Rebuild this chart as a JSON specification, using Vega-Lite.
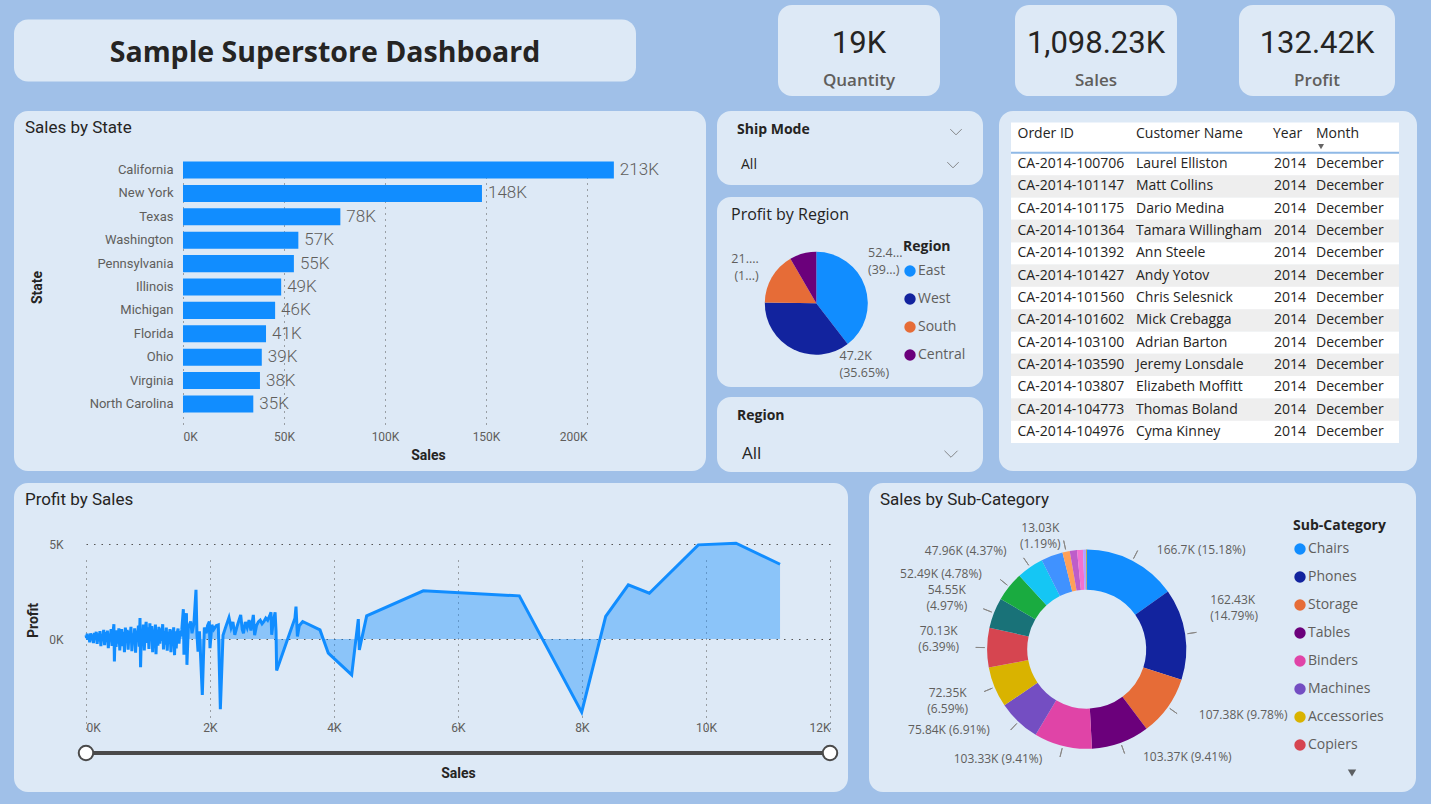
{
  "$schema": "https://vega.github.io/schema/vega-lite/v6.json",
  "background": "#a0c0e8",
  "padding": {"left": 14, "top": 5, "right": 15, "bottom": 14},
  "config": {
    "font": "Roboto",
    "view": {"fill": "#dde9f6", "stroke": null, "cornerRadius": 14},
    "axis": {"domain": false, "ticks": false, "labelFont": "Roboto", "labelColor": "#605E5C", "labelFontSize": 12, "titleFont": "Roboto", "titleColor": "#252423", "titleFontSize": 14, "titleFontWeight": "bold", "gridColor": "#555555", "gridDash": [1, 5]},
    "legend": {"orient": "none", "symbolType": "circle", "symbolSize": 130, "titleFont": "Open Sans", "titleFontSize": 14, "titleFontWeight": "bold", "titleColor": "#252423", "labelFont": "Open Sans", "labelFontSize": 14, "labelColor": "#605E5C", "rowPadding": 14, "labelOffset": 1, "titlePadding": 9},
    "title": {"anchor": "start", "frame": "group", "font": "Roboto", "fontSize": 17, "fontWeight": "normal", "color": "#252423", "offset": -26}
  },
  "datasets": {
    "states": [
      {"State": "California", "Sales": 213300},
      {"State": "New York", "Sales": 148000},
      {"State": "Texas", "Sales": 77900},
      {"State": "Washington", "Sales": 57100},
      {"State": "Pennsylvania", "Sales": 54900},
      {"State": "Illinois", "Sales": 48600},
      {"State": "Michigan", "Sales": 45600},
      {"State": "Florida", "Sales": 41100},
      {"State": "Ohio", "Sales": 39000},
      {"State": "Virginia", "Sales": 38100},
      {"State": "North Carolina", "Sales": 34800}
    ],
    "regions": [
      {"Region": "East", "Profit": 52390, "Label": "52.4...\n(39...)"},
      {"Region": "West", "Profit": 47210, "Label": "47.2K\n(35.65%)"},
      {"Region": "South", "Profit": 21720, "Label": "21....\n(1...)"},
      {"Region": "Central", "Profit": 11100, "Label": ""}
    ],
    "subcats": [
      {"Sub-Category": "Chairs", "Sales": 166700},
      {"Sub-Category": "Phones", "Sales": 162430},
      {"Sub-Category": "Storage", "Sales": 107380},
      {"Sub-Category": "Tables", "Sales": 103370},
      {"Sub-Category": "Binders", "Sales": 103330},
      {"Sub-Category": "Machines", "Sales": 75840},
      {"Sub-Category": "Accessories", "Sales": 72350},
      {"Sub-Category": "Copiers", "Sales": 70130},
      {"Sub-Category": "Bookcases", "Sales": 54550},
      {"Sub-Category": "Appliances", "Sales": 52490},
      {"Sub-Category": "Furnishings", "Sales": 47960},
      {"Sub-Category": "Paper", "Sales": 38700},
      {"Sub-Category": "Supplies", "Sales": 13030},
      {"Sub-Category": "Art", "Sales": 12900},
      {"Sub-Category": "Envelopes", "Sales": 10600},
      {"Sub-Category": "Labels", "Sales": 5200},
      {"Sub-Category": "Fasteners", "Sales": 1270}
    ],
    "orders": [
      {"Order ID": "Order ID", "Customer Name": "Customer Name", "Year": "Year", "Month": "Month"},
      {"Order ID": "CA-2014-100706", "Customer Name": "Laurel Elliston", "Year": "2014", "Month": "December"},
      {"Order ID": "CA-2014-101147", "Customer Name": "Matt Collins", "Year": "2014", "Month": "December"},
      {"Order ID": "CA-2014-101175", "Customer Name": "Dario Medina", "Year": "2014", "Month": "December"},
      {"Order ID": "CA-2014-101364", "Customer Name": "Tamara Willingham", "Year": "2014", "Month": "December"},
      {"Order ID": "CA-2014-101392", "Customer Name": "Ann Steele", "Year": "2014", "Month": "December"},
      {"Order ID": "CA-2014-101427", "Customer Name": "Andy Yotov", "Year": "2014", "Month": "December"},
      {"Order ID": "CA-2014-101560", "Customer Name": "Chris Selesnick", "Year": "2014", "Month": "December"},
      {"Order ID": "CA-2014-101602", "Customer Name": "Mick Crebagga", "Year": "2014", "Month": "December"},
      {"Order ID": "CA-2014-103100", "Customer Name": "Adrian Barton", "Year": "2014", "Month": "December"},
      {"Order ID": "CA-2014-103590", "Customer Name": "Jeremy Lonsdale", "Year": "2014", "Month": "December"},
      {"Order ID": "CA-2014-103807", "Customer Name": "Elizabeth Moffitt", "Year": "2014", "Month": "December"},
      {"Order ID": "CA-2014-104773", "Customer Name": "Thomas Boland", "Year": "2014", "Month": "December"},
      {"Order ID": "CA-2014-104976", "Customer Name": "Cyma Kinney", "Year": "2014", "Month": "December"}
    ],
    "profitBySales": [
      {"Sales":0,"Profit":200},{"Sales":10,"Profit":60},{"Sales":20,"Profit":280},{"Sales":30,"Profit":-40},{"Sales":45,"Profit":180},{"Sales":60,"Profit":-180},{"Sales":75,"Profit":300},{"Sales":90,"Profit":-60},{"Sales":105,"Profit":240},{"Sales":120,"Profit":-220},
      {"Sales":135,"Profit":320},{"Sales":150,"Profit":20},{"Sales":165,"Profit":380},{"Sales":180,"Profit":-260},{"Sales":195,"Profit":300},{"Sales":210,"Profit":-120},{"Sales":225,"Profit":420},{"Sales":240,"Profit":-380},{"Sales":255,"Profit":260},{"Sales":270,"Profit":0},
      {"Sales":285,"Profit":480},{"Sales":300,"Profit":-320},{"Sales":315,"Profit":360},{"Sales":330,"Profit":-160},{"Sales":345,"Profit":440},{"Sales":360,"Profit":-480},{"Sales":375,"Profit":280},{"Sales":390,"Profit":60},{"Sales":405,"Profit":520},{"Sales":420,"Profit":-360},
      {"Sales":435,"Profit":340},{"Sales":450,"Profit":780},{"Sales":458,"Profit":-1180},{"Sales":470,"Profit":300},{"Sales":485,"Profit":-420},{"Sales":500,"Profit":460},{"Sales":515,"Profit":-250},{"Sales":530,"Profit":560},{"Sales":545,"Profit":-600},{"Sales":560,"Profit":250},
      {"Sales":575,"Profit":520},{"Sales":590,"Profit":-380},{"Sales":605,"Profit":380},{"Sales":620,"Profit":-700},{"Sales":635,"Profit":600},{"Sales":650,"Profit":-200},{"Sales":665,"Profit":480},{"Sales":680,"Profit":-560},{"Sales":695,"Profit":420},{"Sales":710,"Profit":80},
      {"Sales":725,"Profit":640},{"Sales":740,"Profit":-640},{"Sales":755,"Profit":300},{"Sales":770,"Profit":-150},{"Sales":785,"Profit":560},{"Sales":800,"Profit":-720},{"Sales":815,"Profit":450},{"Sales":830,"Profit":0},{"Sales":845,"Profit":700},{"Sales":860,"Profit":-400},
      {"Sales":871,"Profit":1100},{"Sales":880,"Profit":-1480},{"Sales":895,"Profit":500},{"Sales":910,"Profit":-300},{"Sales":925,"Profit":760},{"Sales":940,"Profit":-600},{"Sales":955,"Profit":400},{"Sales":970,"Profit":900},{"Sales":985,"Profit":-200},{"Sales":1000,"Profit":620},
      {"Sales":1015,"Profit":-520},{"Sales":1030,"Profit":820},{"Sales":1045,"Profit":-100},{"Sales":1060,"Profit":680},{"Sales":1075,"Profit":-700},{"Sales":1090,"Profit":420},{"Sales":1105,"Profit":300},{"Sales":1120,"Profit":760},{"Sales":1129,"Profit":-800},{"Sales":1145,"Profit":500},
      {"Sales":1160,"Profit":-350},{"Sales":1175,"Profit":640},{"Sales":1190,"Profit":-250},{"Sales":1205,"Profit":560},{"Sales":1220,"Profit":-100},{"Sales":1237,"Profit":780},{"Sales":1250,"Profit":-550},{"Sales":1265,"Profit":420},{"Sales":1280,"Profit":-300},{"Sales":1295,"Profit":600},
      {"Sales":1310,"Profit":-620},{"Sales":1325,"Profit":380},{"Sales":1340,"Profit":100},{"Sales":1355,"Profit":520},{"Sales":1370,"Profit":-700},{"Sales":1385,"Profit":460},{"Sales":1400,"Profit":-200},{"Sales":1414,"Profit":620},{"Sales":1428,"Profit":-850},{"Sales":1440,"Profit":400},
      {"Sales":1455,"Profit":-500},{"Sales":1470,"Profit":300},{"Sales":1485,"Profit":550},{"Sales":1500,"Profit":-250},{"Sales":1515,"Profit":420},{"Sales":1530,"Profit":150},{"Sales":1545,"Profit":480},{"Sales":1570,"Profit":1570},{"Sales":1580,"Profit":-830},{"Sales":1600,"Profit":500},
      {"Sales":1620,"Profit":1360},{"Sales":1628,"Profit":-1360},{"Sales":1650,"Profit":600},{"Sales":1688,"Profit":920},{"Sales":1710,"Profit":300},{"Sales":1740,"Profit":800},{"Sales":1774,"Profit":2590},{"Sales":1790,"Profit":200},{"Sales":1807,"Profit":-660},{"Sales":1830,"Profit":400},
      {"Sales":1876,"Profit":-2940},{"Sales":1909,"Profit":600},{"Sales":1940,"Profit":300},{"Sales":1960,"Profit":700},{"Sales":1989,"Profit":920},{"Sales":2000,"Profit":-480},{"Sales":2030,"Profit":745},{"Sales":2060,"Profit":500},{"Sales":2100,"Profit":700},{"Sales":2134,"Profit":745},
      {"Sales":2167,"Profit":-3690},{"Sales":2210,"Profit":200},{"Sales":2250,"Profit":600},{"Sales":2306,"Profit":1130},{"Sales":2340,"Profit":600},{"Sales":2370,"Profit":900},{"Sales":2400,"Profit":220},{"Sales":2440,"Profit":700},{"Sales":2495,"Profit":1270},{"Sales":2520,"Profit":500},
      {"Sales":2540,"Profit":300},{"Sales":2570,"Profit":900},{"Sales":2600,"Profit":600},{"Sales":2630,"Profit":1000},{"Sales":2660,"Profit":450},{"Sales":2699,"Profit":1270},{"Sales":2720,"Profit":200},{"Sales":2750,"Profit":700},{"Sales":2780,"Profit":900},{"Sales":2810,"Profit":990},
      {"Sales":2840,"Profit":800},{"Sales":2870,"Profit":920},{"Sales":2900,"Profit":1100},{"Sales":2930,"Profit":990},{"Sales":2960,"Profit":1200},{"Sales":2984,"Profit":1410},{"Sales":2995,"Profit":220},{"Sales":3020,"Profit":900},{"Sales":3050,"Profit":1410},{"Sales":3065,"Profit":400},
      {"Sales":3075,"Profit":-1660},{"Sales":3370,"Profit":1090},{"Sales":3387,"Profit":1710},{"Sales":3410,"Profit":130},{"Sales":3440,"Profit":700},{"Sales":3495,"Profit":920},{"Sales":3774,"Profit":480},{"Sales":3908,"Profit":-745},{"Sales":4285,"Profit":-1885},{"Sales":4392,"Profit":1045},
      {"Sales":4408,"Profit":-570},{"Sales":4527,"Profit":1220},{"Sales":5440,"Profit":2535},{"Sales":6989,"Profit":2270},{"Sales":7995,"Profit":-3850},{"Sales":8382,"Profit":1185},{"Sales":8747,"Profit":2850},{"Sales":9086,"Profit":2410},{"Sales":9876,"Profit":4955},{"Sales":10484,"Profit":5040},
      {"Sales":11194,"Profit":3935}
    ]
  },
  "spacing": 14,
  "resolve": {"scale": {"color": "independent"}, "legend": {"color": "independent"}},
  "vconcat": [
    {
      "spacing": 142,
      "center": true,
      "hconcat": [
        {
          "width": 622, "height": 62,
          "view": {"fill": "#dde9f6", "stroke": null, "cornerRadius": 14},
          "data": {"values": [{"Heading": "Sample Superstore Dashboard"}]},
          "mark": {"type": "text", "font": "Open Sans", "fontSize": 28.5, "fontWeight": "bold", "color": "#252423", "dy": 2},
          "encoding": {"text": {"field": "Heading"}}
        },
        {
          "spacing": 75,
          "hconcat": [
            {
              "width": 162, "height": 91,
              "view": {"fill": "#dde9f6", "stroke": null, "cornerRadius": 14},
              "data": {"values": [{"Value": "19K", "Measure": "Quantity"}]},
              "layer": [
                {"mark": {"type": "text", "fontSize": 31, "color": "#252423", "dy": -7}, "encoding": {"text": {"field": "Value"}}},
                {"mark": {"type": "text", "font": "Open Sans", "fontSize": 17, "fontWeight": 600, "color": "#605E5C", "dy": 30}, "encoding": {"text": {"field": "Measure"}}}
              ]
            },
            {
              "spacing": 62,
              "hconcat": [
                {
                  "width": 162, "height": 91,
                  "view": {"fill": "#dde9f6", "stroke": null, "cornerRadius": 14},
                  "data": {"values": [{"Value": "1,098.23K", "Measure": "Sales"}]},
                  "layer": [
                    {"mark": {"type": "text", "fontSize": 31, "color": "#252423", "dy": -7}, "encoding": {"text": {"field": "Value"}}},
                    {"mark": {"type": "text", "font": "Open Sans", "fontSize": 17, "fontWeight": 600, "color": "#605E5C", "dy": 30}, "encoding": {"text": {"field": "Measure"}}}
                  ]
                },
                {
                  "width": 156, "height": 91,
                  "view": {"fill": "#dde9f6", "stroke": null, "cornerRadius": 14},
                  "data": {"values": [{"Value": "132.42K", "Measure": "Profit"}]},
                  "layer": [
                    {"mark": {"type": "text", "fontSize": 31, "color": "#252423", "dy": -7}, "encoding": {"text": {"field": "Value"}}},
                    {"mark": {"type": "text", "font": "Open Sans", "fontSize": 17, "fontWeight": 600, "color": "#605E5C", "dy": 30}, "encoding": {"text": {"field": "Measure"}}}
                  ]
                }
              ]
            }
          ]
        }
      ]
    },
    {
      "spacing": 11,
      "resolve": {"scale": {"color": "independent"}, "legend": {"color": "independent"}},
      "vconcat": [
        {
          "spacing": 10,
          "resolve": {"scale": {"color": "independent"}, "legend": {"color": "independent"}},
          "hconcat": [
            {
              "width": 692, "height": 360,
              "title": {"text": "Sales by State", "dx": 11},
              "data": {"name": "states"},
              "transform": [{"calculate": "format(datum.Sales / 1000, '.0f') + 'K'", "as": "SalesLabel"}],
              "encoding": {
                "y": {"field": "State", "type": "nominal", "sort": "-x",
                  "scale": {"range": [47, 305], "paddingInner": 0.27, "paddingOuter": 0.15},
                  "axis": {"orient": "left", "offset": -169, "labelPadding": 10, "labelFontSize": 13, "title": "State", "titlePadding": 45}},
                "x": {"field": "Sales", "type": "quantitative",
                  "scale": {"domain": [0, 200000], "range": [169, 573], "nice": false},
                  "axis": {"values": [0, 50000, 100000, 150000, 200000], "labelExpr": "format(datum.value / 1000, 'd') + 'K'", "offset": -44, "labelPadding": 4, "grid": true, "title": "Sales", "titleX": 414, "titlePadding": 6}}
              },
              "layer": [
                {"mark": {"type": "bar", "color": "#118DFF"}},
                {
                  "mark": {"type": "text", "align": "left", "dx": 6, "fontSize": 17, "fontWeight": 300, "color": "#605E5C"},
                  "encoding": {"text": {"field": "SalesLabel"}}
                }
              ]
            },
            {
              "spacing": 16,
              "resolve": {"scale": {"color": "independent"}, "legend": {"color": "independent"}},
              "hconcat": [
                {
                  "spacing": 12,
                  "resolve": {"scale": {"color": "independent"}, "legend": {"color": "independent"}},
                  "vconcat": [
                    {
                      "width": 266, "height": 74,
                      "view": {"fill": "#dde9f6", "stroke": null, "cornerRadius": 14},
                      "title": {"text": "Ship Mode", "font": "Open Sans", "fontSize": 14, "fontWeight": "bold", "dx": 20},
                      "data": {"values": [{"Selection": "All"}]},
                      "layer": [
                        {"mark": {"type": "rule", "x": 20, "x2": 246, "y": 30, "color": "#605E5C", "strokeWidth": 1.2}, "encoding": {}},
                        {"mark": {"type": "text", "x": 24, "y": 54, "align": "left", "font": "Open Sans", "fontSize": 14, "color": "#252423"}, "encoding": {"text": {"field": "Selection"}}},
                        {"mark": {"type": "point", "shape": "M-1,-0.5L0,0.5L1,-0.5", "size": 130, "filled": false, "color": "#605E5C", "strokeWidth": 1, "x": 239, "y": 21}, "encoding": {}},
                        {"mark": {"type": "point", "shape": "M-1,-0.5L0,0.5L1,-0.5", "size": 130, "filled": false, "color": "#605E5C", "strokeWidth": 1, "x": 236, "y": 54}, "encoding": {}}
                      ]
                    },
                    {
                      "spacing": 9,
                      "resolve": {"scale": {"color": "independent"}, "legend": {"color": "independent"}},
                      "vconcat": [
                        {
                          "width": 266, "height": 190,
                          "view": {"fill": "#dde9f6", "stroke": null, "cornerRadius": 14},
                          "title": {"text": "Profit by Region", "font": "Open Sans", "fontSize": 16, "dx": 14},
                          "data": {"name": "regions"},
                          "layer": [
                            {"mark": {"type": "rule", "opacity": 0}, "encoding": {"x": {"datum": 0, "type": "quantitative", "axis": null}}},
                            {"mark": {"type": "arc", "outerRadius": 51.5, "x": 99.3, "y": 106.3},
                              "encoding": {
                                "theta": {"field": "Profit", "type": "quantitative", "stack": true},
                                "order": {"field": "Profit", "sort": "descending"},
                                "color": {"field": "Region", "type": "nominal",
                                  "scale": {"domain": ["East", "West", "South", "Central"], "range": ["#118DFF", "#12239E", "#E66C37", "#6B007B"]},
                                  "legend": {"title": "Region", "legendX": 186, "legendY": 43, "titlePadding": 10}}
                              }},
                            {"mark": {"type": "text", "radius": 62, "x": 99.3, "y": 106.3, "align": "left", "dx": -7, "dy": -30.5, "lineBreak": "\n", "lineHeight": 17, "font": "Open Sans", "fontSize": 12.5, "color": "#605E5C"},
                              "encoding": {"theta": {"field": "Profit", "type": "quantitative", "stack": true}, "order": {"field": "Profit", "sort": "descending"},
                                "text": {"condition": {"test": "datum.Region === 'East'", "field": "Label"}, "value": ""}}},
                            {"mark": {"type": "text", "radius": 62, "x": 99.3, "y": 106.3, "align": "left", "dx": 51, "dy": -3, "lineBreak": "\n", "lineHeight": 17, "font": "Open Sans", "fontSize": 12.5, "color": "#605E5C"},
                              "encoding": {"theta": {"field": "Profit", "type": "quantitative", "stack": true}, "order": {"field": "Profit", "sort": "descending"},
                                "text": {"condition": {"test": "datum.Region === 'West'", "field": "Label"}, "value": ""}}},
                            {"mark": {"type": "text", "radius": 62, "x": 99.3, "y": 106.3, "align": "right", "dx": -4, "dy": -13.5, "lineBreak": "\n", "lineHeight": 17, "font": "Open Sans", "fontSize": 12.5, "color": "#605E5C"},
                              "encoding": {"theta": {"field": "Profit", "type": "quantitative", "stack": true}, "order": {"field": "Profit", "sort": "descending"},
                                "text": {"condition": {"test": "datum.Region === 'South'", "field": "Label"}, "value": ""}}}
                          ]
                        },
                        {
                          "width": 266, "height": 75,
                          "view": {"fill": "#dde9f6", "stroke": null, "cornerRadius": 14},
                          "title": {"text": "Region", "font": "Open Sans", "fontSize": 14, "fontWeight": "bold", "dx": 20},
                          "data": {"values": [{"Selection": "All"}]},
                          "layer": [
                            {"mark": {"type": "rule", "x": 20, "x2": 246, "y": 29, "color": "#605E5C", "strokeWidth": 1.2}, "encoding": {}},
                            {"mark": {"type": "text", "x": 25, "y": 57, "align": "left", "font": "Open Sans", "fontSize": 17, "color": "#252423"}, "encoding": {"text": {"field": "Selection"}}},
                            {"mark": {"type": "point", "shape": "M-1,-0.5L0,0.5L1,-0.5", "size": 170, "filled": false, "color": "#605E5C", "strokeWidth": 1, "x": 234, "y": 57}, "encoding": {}}
                          ]
                        }
                      ]
                    }
                  ]
                },
                {
                  "width": 418, "height": 360,
                  "data": {"name": "orders"},
                  "encoding": {
                    "y": {"field": "Order ID", "type": "nominal", "axis": null, "sort": null,
                      "scale": {"domain": ["Order ID", "CA-2014-100706", "CA-2014-101147", "CA-2014-101175", "CA-2014-101364", "CA-2014-101392", "CA-2014-101427", "CA-2014-101560", "CA-2014-101602", "CA-2014-103100", "CA-2014-103590", "CA-2014-103807", "CA-2014-104773", "CA-2014-104976"],
                        "range": [19.5, 332.1], "paddingInner": 0, "paddingOuter": 0}}
                  },
                  "layer": [
                    {"transform": [{"filter": "datum['Order ID'] === 'Order ID'"}], "mark": {"type": "rect", "x": 12, "x2": 400, "color": "#ffffff"}},
                    {"transform": [{"filter": "datum['Order ID'] === 'Order ID'"}], "mark": {"type": "rect", "x": 12, "x2": 400, "color": "#ffffff", "yOffset": -8}},
                    {"transform": [{"filter": "datum['Order ID'] !== 'Order ID'"}], "mark": {"type": "rect", "x": 12, "x2": 400, "color": "#ffffff"}},
                    {"transform": [{"filter": {"field": "Order ID", "oneOf": ["CA-2014-101147", "CA-2014-101364", "CA-2014-101427", "CA-2014-101602", "CA-2014-103590", "CA-2014-104773"]}}], "mark": {"type": "rect", "x": 12, "x2": 400, "color": "#eeeeee"}},
                    {"transform": [{"filter": "datum['Order ID'] === 'Order ID'"}], "mark": {"type": "rule", "x": 12, "x2": 400, "color": "#8fb9e6", "strokeWidth": 2},
                      "encoding": {"y": {"field": "Order ID", "type": "nominal", "bandPosition": 1}}},
                    {"transform": [{"filter": "datum['Order ID'] !== 'Order ID'"}], "mark": {"type": "text", "x": 18.5, "align": "left", "font": "Open Sans", "fontSize": 14, "color": "#252423"}, "encoding": {"text": {"field": "Order ID"}}},
                    {"transform": [{"filter": "datum['Order ID'] !== 'Order ID'"}], "mark": {"type": "text", "x": 137, "align": "left", "font": "Open Sans", "fontSize": 14, "color": "#252423"}, "encoding": {"text": {"field": "Customer Name"}}},
                    {"transform": [{"filter": "datum['Order ID'] !== 'Order ID'"}], "mark": {"type": "text", "x": 275, "align": "left", "font": "Open Sans", "fontSize": 14, "color": "#252423"}, "encoding": {"text": {"field": "Year"}}},
                    {"transform": [{"filter": "datum['Order ID'] !== 'Order ID'"}], "mark": {"type": "text", "x": 317, "align": "left", "font": "Open Sans", "fontSize": 14, "color": "#252423"}, "encoding": {"text": {"field": "Month"}}},
                    {"transform": [{"filter": "datum['Order ID'] === 'Order ID'"}], "mark": {"type": "text", "x": 18.5, "dy": -7.5, "align": "left", "font": "Open Sans", "fontSize": 14, "color": "#252423"}, "encoding": {"text": {"field": "Order ID"}}},
                    {"transform": [{"filter": "datum['Order ID'] === 'Order ID'"}], "mark": {"type": "text", "x": 137, "dy": -7.5, "align": "left", "font": "Open Sans", "fontSize": 14, "color": "#252423"}, "encoding": {"text": {"field": "Customer Name"}}},
                    {"transform": [{"filter": "datum['Order ID'] === 'Order ID'"}], "mark": {"type": "text", "x": 274, "dy": -7.5, "align": "left", "font": "Open Sans", "fontSize": 14, "color": "#252423"}, "encoding": {"text": {"field": "Year"}}},
                    {"transform": [{"filter": "datum['Order ID'] === 'Order ID'"}], "mark": {"type": "text", "x": 317, "dy": -7.5, "align": "left", "font": "Open Sans", "fontSize": 14, "color": "#252423"}, "encoding": {"text": {"field": "Month"}}},
                    {"transform": [{"filter": "datum['Order ID'] === 'Order ID'"}], "mark": {"type": "point", "shape": "triangle-down", "x": 322, "size": 36, "filled": true, "color": "#252423", "yOffset": 5}}
                  ]
                }
              ]
            }
          ]
        },
        {
          "spacing": 21,
          "resolve": {"scale": {"color": "independent"}, "legend": {"color": "independent"}},
          "hconcat": [
            {
              "width": 834, "height": 309,
              "title": {"text": "Profit by Sales", "dx": 11},
              "layer": [
                {
                  "data": {"name": "profitBySales"},
                  "mark": {"type": "area", "color": "#118DFF", "opacity": 0.4},
                  "encoding": {
                    "x": {"field": "Sales", "type": "quantitative",
                      "scale": {"domain": [0, 12000], "range": [72, 816], "nice": false},
                      "axis": {"values": [0, 2000, 4000, 6000, 8000, 10000, 12000], "labelExpr": "format(datum.value / 1000, 'd') + 'K'", "offset": -73, "labelPadding": 3, "title": "Sales", "titlePadding": 33}},
                    "y": {"field": "Profit", "type": "quantitative",
                      "scale": {"domain": [-4000, 5000], "range": [232, 61], "nice": false, "zero": false},
                      "axis": {"values": [0, 5000], "labelExpr": "format(datum.value / 1000, 'd') + 'K'", "offset": -72, "labelPadding": 23, "grid": true, "gridDash": [1.5, 6], "title": "Profit", "titleY": 137, "titlePadding": 8}},
                    "y2": {"datum": 0}
                  }
                },
                {
                  "data": {"name": "profitBySales"},
                  "mark": {"type": "line", "color": "#118DFF", "strokeWidth": 3},
                  "encoding": {
                    "x": {"field": "Sales", "type": "quantitative"},
                    "y": {"field": "Profit", "type": "quantitative"}
                  }
                },
                {
                  "data": {"values": [{"Low": 0, "High": 12000}]},
                  "mark": {"type": "rule", "color": "#4a4a4a", "strokeWidth": 4},
                  "encoding": {"x": {"field": "Low", "type": "quantitative"}, "x2": {"field": "High"}, "y": {"datum": -6000}}
                },
                {
                  "data": {"values": [{"Sales": 0}, {"Sales": 12000}]},
                  "mark": {"type": "point", "filled": true, "fill": "#ffffff", "stroke": "#4a4a4a", "strokeWidth": 2, "size": 210, "opacity": 1},
                  "encoding": {"x": {"field": "Sales", "type": "quantitative"}, "y": {"datum": -6000}}
                }
              ]
            },
            {
              "width": 547, "height": 309,
              "view": {"fill": "#dde9f6", "stroke": null, "cornerRadius": 14},
              "title": {"text": "Sales by Sub-Category", "dx": 11},
              "data": {"name": "subcats"},
              "transform": [
                {"joinaggregate": [{"op": "sum", "field": "Sales", "as": "Total"}]},
                {"calculate": "format(datum.Sales / 1000, '.2~f') + 'K (' + format(datum.Sales / datum.Total, '.2%') + ')'", "as": "Label"},
                {"calculate": "format(datum.Sales / 1000, '.2~f') + 'K\\n(' + format(datum.Sales / datum.Total, '.2%') + ')'", "as": "Label2"}
              ],
              "layer": [
                {"mark": {"type": "rule", "opacity": 0}, "encoding": {"x": {"datum": 0, "type": "quantitative", "axis": null}}},
                {"mark": {"type": "arc", "innerRadius": 59.5, "outerRadius": 99.6, "x": 217.7, "y": 166.2},
                  "encoding": {
                    "theta": {"field": "Sales", "type": "quantitative", "stack": true},
                    "order": {"field": "Sales", "sort": "descending"},
                    "color": {"field": "Sub-Category", "type": "nominal",
                      "scale": {"domain": ["Chairs", "Phones", "Storage", "Tables", "Binders", "Machines", "Accessories", "Copiers", "Bookcases", "Appliances", "Furnishings", "Paper", "Supplies", "Art", "Envelopes", "Labels", "Fasteners"],
                        "range": ["#118DFF", "#12239E", "#E66C37", "#6B007B", "#E044A7", "#744EC2", "#D9B300", "#D64550", "#197278", "#1AAB40", "#15C6F4", "#4092FF", "#FFA058", "#BE5DC9", "#F472D0", "#B5A1FF", "#C4A200"]},
                      "legend": {"title": "Sub-Category", "legendX": 424, "legendY": 36, "values": ["Chairs", "Phones", "Storage", "Tables", "Binders", "Machines", "Accessories", "Copiers"]}}
                  }},
                {"mark": {"type": "arc", "innerRadius": 102, "outerRadius": 111, "padAngle": 3, "filled": false, "strokeWidth": 1, "x": 217.7, "y": 166.2},
                  "encoding": {
                    "theta": {"field": "Sales", "type": "quantitative", "stack": true},
                    "order": {"field": "Sales", "sort": "descending"},
                    "stroke": {"condition": {"test": "indexof(['Paper', 'Art', 'Envelopes', 'Labels', 'Fasteners'], datum['Sub-Category']) < 0", "value": "#8a8886"}, "value": "transparent"}}},
                {"mark": {"type": "text", "radius": 118, "x": 217.7, "y": 166.2, "align": "left", "dx": 16, "dy": 6, "font": "Open Sans", "fontSize": 12, "color": "#605E5C"},
                  "encoding": {"theta": {"field": "Sales", "type": "quantitative", "stack": true}, "order": {"field": "Sales", "sort": "descending"},
                    "text": {"condition": {"test": "datum['Sub-Category'] === 'Chairs'", "field": "Label"}, "value": ""}}},
                {"mark": {"type": "text", "radius": 118, "x": 217.7, "y": 166.2, "align": "left", "dx": 16, "dy": -3, "font": "Open Sans", "fontSize": 12, "color": "#605E5C"},
                  "encoding": {"theta": {"field": "Sales", "type": "quantitative", "stack": true}, "order": {"field": "Sales", "sort": "descending"},
                    "text": {"condition": {"test": "indexof(['Storage', 'Tables'], datum['Sub-Category']) >= 0", "field": "Label"}, "value": ""}}},
                {"mark": {"type": "text", "radius": 118, "x": 217.7, "y": 166.2, "align": "left", "dx": 7, "dy": -31, "lineBreak": "\n", "lineHeight": 16, "font": "Open Sans", "fontSize": 12, "color": "#605E5C"},
                  "encoding": {"theta": {"field": "Sales", "type": "quantitative", "stack": true}, "order": {"field": "Sales", "sort": "descending"},
                    "text": {"condition": {"test": "datum['Sub-Category'] === 'Phones'", "field": "Label2"}, "value": ""}}},
                {"mark": {"type": "text", "radius": 118, "x": 217.7, "y": 166.2, "align": "right", "dx": -16, "dy": -5, "font": "Open Sans", "fontSize": 12, "color": "#605E5C"},
                  "encoding": {"theta": {"field": "Sales", "type": "quantitative", "stack": true}, "order": {"field": "Sales", "sort": "descending"},
                    "text": {"condition": {"test": "indexof(['Binders', 'Machines'], datum['Sub-Category']) >= 0", "field": "Label"}, "value": ""}}},
                {"mark": {"type": "text", "radius": 118, "x": 217.7, "y": 166.2, "align": "right", "dx": -13, "dy": -1, "font": "Open Sans", "fontSize": 12, "color": "#605E5C"},
                  "encoding": {"theta": {"field": "Sales", "type": "quantitative", "stack": true}, "order": {"field": "Sales", "sort": "descending"},
                    "text": {"condition": {"test": "indexof(['Appliances', 'Furnishings'], datum['Sub-Category']) >= 0", "field": "Label"}, "value": ""}}},
                {"mark": {"type": "text", "radius": 118, "x": 217.7, "y": 166.2, "align": "center", "dx": -30, "dy": -1, "lineBreak": "\n", "lineHeight": 16, "font": "Open Sans", "fontSize": 12, "color": "#605E5C"},
                  "encoding": {"theta": {"field": "Sales", "type": "quantitative", "stack": true}, "order": {"field": "Sales", "sort": "descending"},
                    "text": {"condition": {"test": "datum['Sub-Category'] === 'Accessories'", "field": "Label2"}, "value": ""}}},
                {"mark": {"type": "text", "radius": 118, "x": 217.7, "y": 166.2, "align": "center", "dx": -30, "dy": -16, "lineBreak": "\n", "lineHeight": 16, "font": "Open Sans", "fontSize": 12, "color": "#605E5C"},
                  "encoding": {"theta": {"field": "Sales", "type": "quantitative", "stack": true}, "order": {"field": "Sales", "sort": "descending"},
                    "text": {"condition": {"test": "indexof(['Copiers', 'Bookcases'], datum['Sub-Category']) >= 0", "field": "Label2"}, "value": ""}}},
                {"mark": {"type": "text", "radius": 118, "x": 217.7, "y": 166.2, "align": "center", "dx": -22, "dy": -6, "lineBreak": "\n", "lineHeight": 16, "font": "Open Sans", "fontSize": 12, "color": "#605E5C"},
                  "encoding": {"theta": {"field": "Sales", "type": "quantitative", "stack": true}, "order": {"field": "Sales", "sort": "descending"},
                    "text": {"condition": {"test": "datum['Sub-Category'] === 'Supplies'", "field": "Label2"}, "value": ""}}},
                {"data": {"values": [{"More": "more"}]}, "mark": {"type": "point", "shape": "triangle-down", "x": 483, "y": 290, "size": 70, "filled": true, "color": "#252423"}, "encoding": {}}
              ]
            }
          ]
        }
      ]
    }
  ]
}
